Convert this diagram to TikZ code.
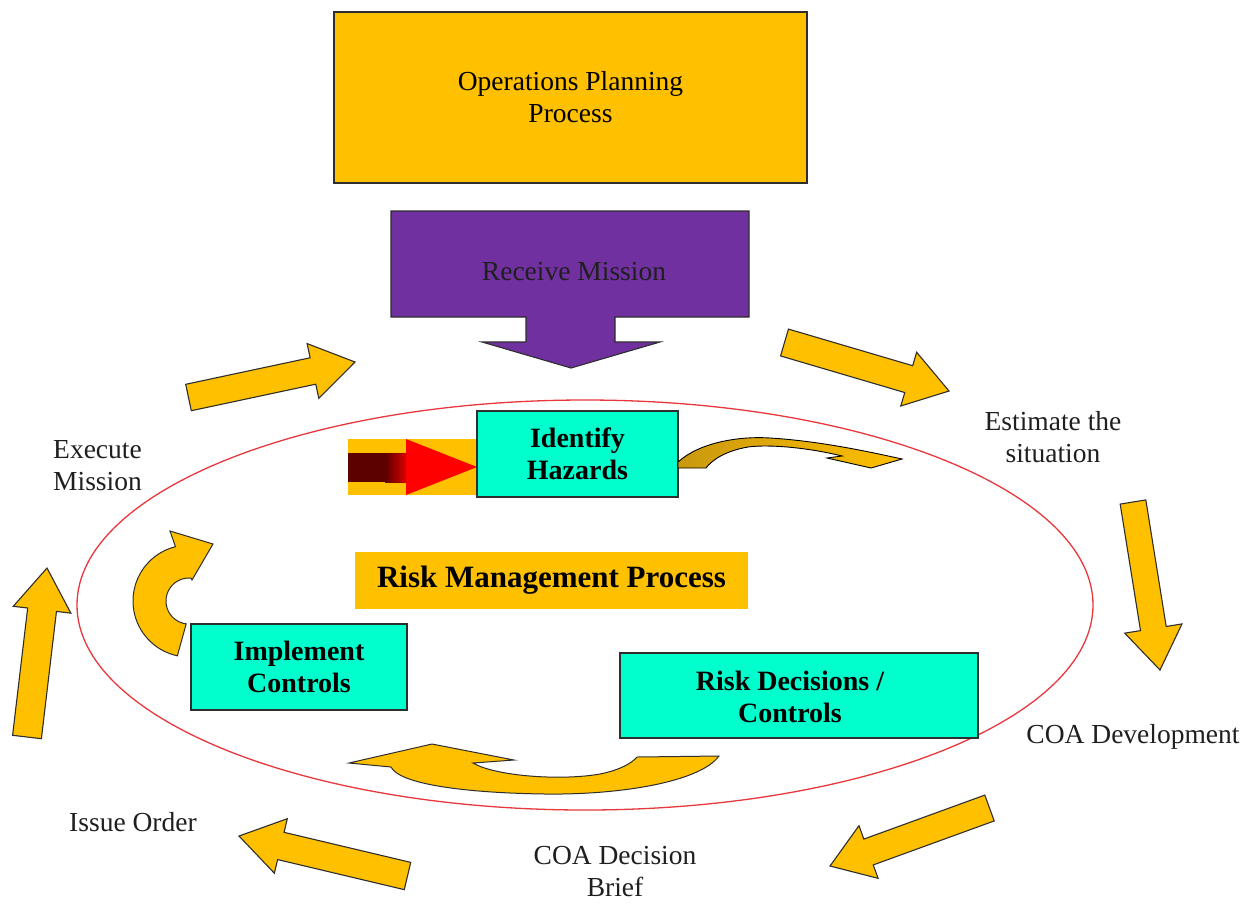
\documentclass[tikz,border=0pt]{standalone}
\usepackage{fontspec}
\setmainfont{Liberation Serif}
\usetikzlibrary{calc}
\definecolor{oyellow}{HTML}{FFC000}
\definecolor{opurple}{HTML}{7030A0}
\definecolor{ocyan}{HTML}{00FFCC}
\definecolor{oline}{HTML}{2E2E2E}
\definecolor{ored}{HTML}{E8383D}
\definecolor{ogold}{HTML}{C9980F}
\definecolor{omaroon}{HTML}{5C0000}
\newcommand{\regfont}{\fontsize{27.5}{32}\selectfont}
\newcommand{\boldfont}{\fontsize{28}{32}\selectfont\bfseries}
\newcommand{\rmpfont}{\fontsize{31}{36}\selectfont\bfseries}
\newcommand{\fatarrow}[7]{%
  \pgfmathsetmacro{\fadx}{#3-(#1)}%
  \pgfmathsetmacro{\fady}{#4-(#2)}%
  \pgfmathsetmacro{\falen}{veclen(\fadx,\fady)}%
  \pgfmathsetmacro{\faux}{\fadx/\falen}%
  \pgfmathsetmacro{\fauy}{\fady/\falen}%
  \pgfmathsetmacro{\fabx}{#3-(\faux)*(#7)}%
  \pgfmathsetmacro{\faby}{#4-(\fauy)*(#7)}%
  \pgfmathsetmacro{\fapx}{-(\fauy)}%
  \pgfmathsetmacro{\fapy}{\faux}%
  \draw[bigarrow] ({#1+(\fapx)*(#5)/2},{#2+(\fapy)*(#5)/2})
    -- ({\fabx+(\fapx)*(#5)/2},{\faby+(\fapy)*(#5)/2})
    -- ({\fabx+(\fapx)*(#6)/2},{\faby+(\fapy)*(#6)/2})
    -- (#3,#4)
    -- ({\fabx-(\fapx)*(#6)/2},{\faby-(\fapy)*(#6)/2})
    -- ({\fabx-(\fapx)*(#5)/2},{\faby-(\fapy)*(#5)/2})
    -- ({#1-(\fapx)*(#5)/2},{#2-(\fapy)*(#5)/2}) -- cycle;}
\tikzset{
  bigarrow/.style={fill=oyellow, draw=oline, line width=1.1pt, line join=miter},
  curvearrow/.style={fill=oyellow, draw=oline, line width=1pt, line join=miter},
  box/.style={draw=oline, line width=1.1pt, inner sep=0pt, align=center},
  lbl/.style={align=center, font=\regfont, text=black!88, inner sep=0pt},
}
\begin{document}
\begin{tikzpicture}[x=1pt, y=-1pt]
\useasboundingbox (0,0) rectangle (1257,906);
\fill[white] (0,0) rectangle (1257,906);

% ellipse
\draw[ored, line width=1.3pt] (585,605) ellipse [x radius=508, y radius=205];

% top box
\node[box, fill=oyellow, minimum width=473, minimum height=171, font=\regfont] (opp) at (570.5,97.5) {Operations Planning\\Process};

% receive mission callout
\draw[fill=opurple, draw=oline, line width=1.1pt, line join=miter]
  (391,211) -- (749,211) -- (749,317) -- (615,317) -- (615,342) -- (660,342)
  -- (571,368) -- (482,342) -- (526,342) -- (526,317) -- (391,317) -- cycle;
\node[font=\regfont, text=black!88] (recv) at (574,272) {Receive Mission};

% straight fat arrows
\fatarrow{188.5}{397.5}{355}{362}{27}{56}{43}
\fatarrow{784.5}{342.5}{949}{391}{28}{56}{42}
\fatarrow{1133}{502}{1160}{670}{26}{58}{42}
\fatarrow{989.5}{808}{830}{866}{27.5}{56}{41}
\fatarrow{407.5}{876}{239}{836}{28}{56}{43}
\fatarrow{27}{737}{47}{568}{29}{58}{42}

% gradient arrow into Identify Hazards
\fill[oyellow] (348,439) rectangle (477,495);
\fill[omaroon] (348,453) rectangle (386,482);
\shade[left color=omaroon, right color=red] (385,453) rectangle (412,482);
\fill[red] (406,439) -- (477,467) -- (406,495) -- cycle;

% Identify Hazards
\node[box, fill=ocyan, minimum width=201, minimum height=86, font=\boldfont] (idh) at (577.5,454) {Identify\\Hazards};

% curved arrow from Identify Hazards
\draw[draw=black, line width=0.9pt, line join=miter, left color=ogold, right color=oyellow]
  (678,468) -- (678,462) .. controls (700,442) and (740,436) .. (770,438)
  .. controls (820,441) and (870,452) .. (902,459) -- (871,468) -- (827,458) -- (842,456)
  .. controls (810,448) and (770,444) .. (748,447)
  .. controls (725,451) and (712,460) .. (706,468) -- cycle;

% Risk Management Process label
\node[fill=oyellow, minimum width=393, minimum height=57, inner sep=0pt, font=\rmpfont] (rmp) at (551.5,580.5) {Risk Management Process};

% Implement Controls
\node[box, fill=ocyan, minimum width=216, minimum height=86, font=\boldfont] (impl) at (299,667) {Implement\\Controls};

% curl arrow near Implement Controls
\draw[curvearrow]
  plot[domain=102:256, samples=40] ({189+56*cos(\x)},{601+56*sin(\x)})
  -- (170,531) -- (213,544) -- (192,580)
  -- plot[domain=275:97, samples=40] ({189+23*cos(\x)},{601+23*sin(\x)}) -- cycle;

% Risk Decisions / Controls
\node[box, fill=ocyan, minimum width=358, minimum height=85] (rdc) at (799,695.5) {};
\node[font=\boldfont, align=center, inner sep=0pt] (rdct) at (790,697) {Risk Decisions /\\Controls};

% bottom curved arrow
\draw[curvearrow]
  (719,756) .. controls (700,782) and (620,795) .. (545,794)
  .. controls (470,793) and (400,785) .. (391,767) -- (349,763) -- (432,744)
  -- (514,760) -- (473,763) .. controls (495,776) and (560,781) .. (600,774)
  .. controls (620,770) and (632,763) .. (637,757) -- cycle;

% outer labels
\node[lbl] (exec) at (97.5,466) {Execute\\Mission};
\node[lbl] (est) at (1053,437) {Estimate the\\situation};
\node[lbl] (coad) at (1133,737) {COA Development};
\node[lbl] (coab) at (615,872) {COA Decision\\Brief};
\node[lbl] (issue) at (133,822) {Issue Order};
\end{tikzpicture}
\end{document}
